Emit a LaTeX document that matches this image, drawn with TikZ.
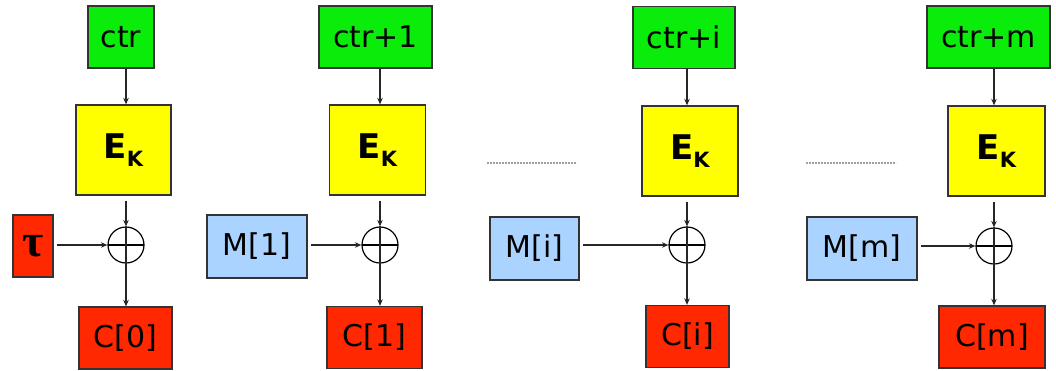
\documentclass[tikz,border=0pt]{standalone}
\usepackage{fontspec}
\setmainfont{DejaVu Sans}
\newfontfamily\greekfont{Liberation Serif}
\usetikzlibrary{arrows.meta}
\definecolor{ctrgreen}{RGB}{10,236,10}
\definecolor{encyellow}{RGB}{255,255,0}
\definecolor{outred}{RGB}{255,40,0}
\definecolor{msgblue}{RGB}{170,212,255}

\begin{document}
\begin{tikzpicture}[
  x=1pt, y=-1pt, >={Stealth[length=6.5pt,width=5.5pt]},
  box/.style={draw=black!80, line width=1.3pt, inner sep=0pt,
              font=\fontsize{30}{36}\selectfont},
  ctrbox/.style={box, fill=ctrgreen, minimum height=62pt},
  encbox/.style={box, fill=encyellow, minimum width=96pt, minimum height=90pt},
  outbox/.style={box, fill=outred, minimum height=62pt},
  msgbox/.style={box, fill=msgblue, minimum height=63pt},
  xorop/.style={circle, draw, line width=1.2pt, minimum size=36pt, inner sep=0pt,
                path picture={\draw[line width=1.2pt]
                  (path picture bounding box.west) -- (path picture bounding box.east);}},
  arr/.style={line width=1.2pt, color=black!85},
  dots/.style={line width=1.6pt, dash pattern=on 1.6pt off 1.4pt, color=gray!75},
]
\useasboundingbox (0,0) rectangle (1056,370);

\newcommand{\ek}{{\fontsize{34}{36}\selectfont\bfseries E\raisebox{-8pt}{\fontsize{21}{21}\selectfont K}}}

\node[ctrbox, minimum width=66pt]  (ctr0) at (121,37)    {ctr};
\node[encbox, minimum width=95pt]  (ek0)  at (123.5,150) {\ek};
\node[xorop]                       (xor0) at (126,245)   {};
\node[outbox, minimum width=40pt]  (tau)  at (33,246)    {\greekfont\fontsize{46}{46}\selectfont\bfseries τ};
\node[outbox, minimum width=93pt]  (c0)   at (125.5,338) {C[0]};

\node[ctrbox, minimum width=113pt] (ctr1) at (375.5,37)  {ctr+1};
\node[encbox]                      (ek1)  at (377.5,150) {\ek};
\node[xorop]                       (xor1) at (380,245)   {};
\node[msgbox, minimum width=100pt] (m1)   at (257,246.5) {M[1]};
\node[outbox, minimum width=95pt]  (c1)   at (374.5,337.5) {C[1]};

\node[ctrbox, minimum width=102pt] (ctri) at (684,37.5)  {ctr+i};
\node[encbox]                      (eki)  at (690,151)   {\ek};
\node[xorop]                       (xori) at (687,245)   {};
\node[msgbox, minimum width=89pt]  (mi)   at (534.5,248.5) {M[i]};
\node[outbox, minimum width=83pt]  (ci)   at (687.5,336.5) {C[i]};

\node[ctrbox, minimum width=123pt] (ctrm) at (988.5,37)  {ctr+m};
\node[encbox, minimum width=97pt]  (ekm)  at (996.5,151) {\ek};
\node[xorop]                       (xorm) at (994,246)   {};
\node[msgbox, minimum width=110pt] (mm)   at (862,248.5) {M[m]};
\node[outbox, minimum width=106pt] (cm)   at (992,337)   {C[m]};

\draw[dots] (487,163) -- (577,163);
\draw[dots] (806,163) -- (896,163);

\draw[arr,->] (xor0 |- ctr0.south) -- (xor0 |- ek0.north);
\draw[arr,->,shorten <=5pt] (xor0 |- ek0.south) -- (xor0.north);
\draw[arr,->,shorten <=3pt] (tau.east |- xor0) -- (xor0.west);
\draw[arr] (xor0.north) -- (xor0.south);
\draw[arr,->] (xor0.south) -- (xor0 |- c0.north);

\draw[arr,->] (xor1 |- ctr1.south) -- (xor1 |- ek1.north);
\draw[arr,->,shorten <=5pt] (xor1 |- ek1.south) -- (xor1.north);
\draw[arr,->,shorten <=3pt] (m1.east |- xor1) -- (xor1.west);
\draw[arr] (xor1.north) -- (xor1.south);
\draw[arr,->] (xor1.south) -- (xor1 |- c1.north);

\draw[arr,->] (xori |- ctri.south) -- (xori |- eki.north);
\draw[arr,->,shorten <=5pt] (xori |- eki.south) -- (xori.north);
\draw[arr,->,shorten <=3pt] (mi.east |- xori) -- (xori.west);
\draw[arr] (xori.north) -- (xori.south);
\draw[arr,->] (xori.south) -- (xori |- ci.north);

\draw[arr,->] (xorm |- ctrm.south) -- (xorm |- ekm.north);
\draw[arr,->,shorten <=5pt] (xorm |- ekm.south) -- (xorm.north);
\draw[arr,->,shorten <=3pt] (mm.east |- xorm) -- (xorm.west);
\draw[arr] (xorm.north) -- (xorm.south);
\draw[arr,->] (xorm.south) -- (xorm |- cm.north);
\end{tikzpicture}
\end{document}
